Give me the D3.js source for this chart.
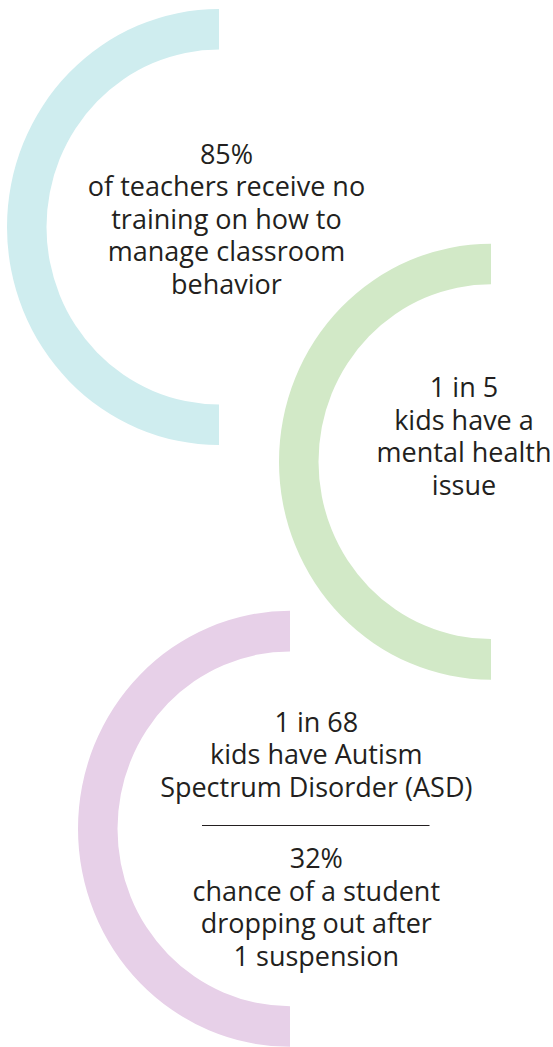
<!DOCTYPE html>
<html>
<head>
<meta charset="utf-8">
<script src="https://cdn.jsdelivr.net/npm/d3@7"></script>
<style>
  html, body { margin: 0; padding: 0; background: #fff; }
  svg { display: block; }
</style>
</head>
<body>
<div id="chart"></div>
<script>
// ---- data ----
const categories = ["teachers", "mentalHealth", "autism"];
const statHeadlines = ["85%", "1 in 5", "1 in 68"];
const statText1 = ["of teachers receive no", "training on how to", "manage classroom", "behavior"];
const statText2 = ["kids have a", "mental health", "issue"];
const statText3 = ["kids have Autism", "Spectrum Disorder (ASD)"];
const secondHeadline = ["32%"];
const secondText = ["chance of a student", "dropping out after", "1 suspension"];

// ---- layout / style ----
const W = 553, H = 1047;
const colors = d3.scaleOrdinal().domain(categories).range(["#cfedef", "#d2e9c7", "#e7d0e8"]);
const arcCenters = { teachers: [219, 227], mentalHealth: [491, 461.7], autism: [290, 828.8] };
const outerR = 212, innerR = 172.5, yScaleFactor = 218 / 212;
const fontSize = 27, lineH = 32.4;
const textColor = "#231f20";

const svg = d3.select("#chart").append("svg").attr("width", W).attr("height", H);

const arc = d3.arc()
  .innerRadius(innerR)
  .outerRadius(outerR)
  .startAngle(-Math.PI)
  .endAngle(0);

svg.selectAll("path.ring")
  .data(categories)
  .join("path")
  .attr("class", "ring")
  .attr("d", arc())
  .attr("fill", d => colors(d))
  .attr("transform", d => `translate(${arcCenters[d][0]},${arcCenters[d][1]}) scale(1,${yScaleFactor})`);

function block(lines, cx, firstBaseline) {
  const t = svg.append("text")
    .attr("font-family", "'Open Sans', 'Noto Sans', sans-serif")
    .attr("font-size", fontSize)
    .attr("fill", textColor)
    .attr("text-anchor", "middle");
  t.selectAll("tspan").data(lines).join("tspan")
    .attr("x", cx)
    .attr("y", (d, i) => firstBaseline + i * lineH)
    .text(d => d);
  return t;
}

block([statHeadlines[0], ...statText1], 226.5, 164);
block([statHeadlines[1], ...statText2], 464, 397.3);
block([statHeadlines[2], ...statText3], 316.3, 731.7);
block([secondHeadline[0], ...secondText], 316.3, 868.3);

svg.append("line")
  .attr("x1", 202).attr("x2", 429.5)
  .attr("y1", 825.5).attr("y2", 825.5)
  .attr("stroke", textColor)
  .attr("stroke-width", 1);
</script>
</body>
</html>
